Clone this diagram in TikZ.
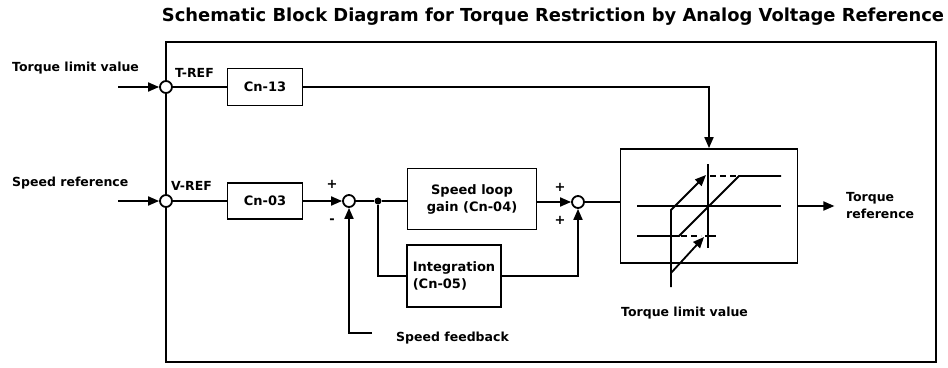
\documentclass[tikz,border=0pt]{standalone}
\usepackage{fontspec}
\setmainfont{DejaVu Sans}
\usetikzlibrary{arrows.meta,positioning}

\begin{document}
\begin{tikzpicture}[x=1pt, y=-1pt,
  every node/.style={font=\fontsize{12.5}{17}\selectfont\bfseries},
  blk/.style={draw, line width=1.8pt, align=center, inner sep=2pt, font=\fontsize{13}{17}\selectfont\bfseries},
  sumpt/.style={draw, circle, line width=1.8pt, fill=white, minimum size=12pt, inner sep=0pt},
  sig/.style={line width=1.8pt, -{Triangle[length=11pt,width=9pt]}},
  wire/.style={line width=1.8pt},
  lbl/.style={inner sep=0pt, anchor=west, align=left},
  sgn/.style={inner sep=0pt, font=\fontsize{13}{13}\selectfont\bfseries}
]
\useasboundingbox (0,0) rectangle (948,367);

% title and frame
\node[font=\fontsize{17.9}{20}\selectfont\bfseries] (title) at (553,17)
  {Schematic Block Diagram for Torque Restriction by Analog Voltage Reference};
\draw[wire] (166,42) rectangle (936,362);

% inputs
\node[lbl] (tlim) at (12,68) {Torque limit value};
\node[lbl] (sref) at (12,183) {Speed reference};
\coordinate (tin) at (118,87);
\coordinate (vin) at (118,201);
\node[sumpt] (tsum) at (166,87) {};
\node[sumpt] (vsum) at (166,201) {};
\node[lbl] (treflbl) at (175,73) {T-REF};
\node[lbl] (vreflbl) at (171,186) {V-REF};

% blocks
\node[blk, minimum width=75pt, minimum height=37pt] (cn13) at (265,87) {Cn-13};
\node[blk, minimum width=75pt, minimum height=36pt] (cn03) at (265,201) {Cn-03};
\node[sumpt] (sum1) at (349,201) {};
\node[circle, fill, inner sep=0pt, minimum size=7pt] (split) at (378,201) {};
\node[blk, minimum width=129pt, minimum height=61pt] (gain) at (472,199) {Speed loop\\gain (Cn-04)};
\node[blk, minimum width=94pt, minimum height=62pt, align=left] (integ) at (454,276) {Integration\\(Cn-05)};
\node[sumpt] (sum2) at (578,202) {};
\node[blk, minimum width=177pt, minimum height=114pt] (lim) at (709,206) {};
\node[lbl] (tout) at (846,206) {Torque\\reference};
\node[lbl] (limlbl) at (621,313) {Torque limit value};
\coordinate (fb) at (372,333);
\node[lbl] (fblbl) at (396,338) {Speed feedback};

% signs
\node[sgn] at (332,184) {+};
\node[sgn] at (332,221) {-};
\node[sgn] at (560,187) {+};
\node[sgn] at (560,220) {+};

% connections
\draw[sig] (tin) -- (tsum);
\draw[sig] (vin) -- (vsum);
\draw[wire] (tsum) -- (cn13);
\draw[wire] (vsum) -- (cn03);
\draw[sig] (cn13.east) -| (lim.north);
\draw[sig] (cn03) -- (sum1);
\draw[wire] (sum1) -- (split);
\draw[wire] (split) -- (split -| gain.west);
\draw[wire] (split) |- (integ.west);
\draw[sig] (gain.east |- sum2) -- (sum2);
\draw[sig] (integ.east) -| (sum2.south);
\draw[sig] (fb) -| (sum1.south);
\draw[wire] (sum2) -- (sum2 -| lim.west);
\draw[sig] (lim.east) -- ++(36,0);

% limiter characteristic
\begin{scope}[shift={(lim.center)}, wire]
  \draw (-72,0) -- (72,0);
  \draw (-1,-42) -- (-1,42);
  \draw (-72,30) -- (-30,30) -- (30,-30) -- (72,-30);
  \draw[dash pattern=on 6pt off 4pt] (1,-30) -- (30,-30);
  \draw[dash pattern=on 6pt off 4pt] (-28,30) -- (-8,30);
  \draw (-4,30) -- (7,30);
  \draw[-{Triangle[length=11pt,width=9pt]}] (-38,81) -- (-38,4) -- (-3,-31);
  \draw[-{Triangle[length=11pt,width=9pt]}] (-38,67) -- (-5,31);
\end{scope}
\end{tikzpicture}
\end{document}
